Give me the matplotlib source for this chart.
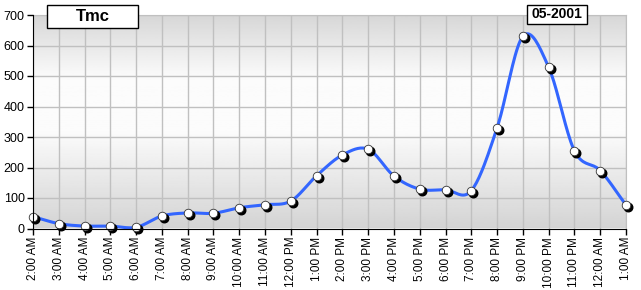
import matplotlib
matplotlib.use("Agg")
import matplotlib.pyplot as plt
import matplotlib.transforms as mtrans
from matplotlib.patches import Rectangle
import numpy as np

plt.rcParams['font.family'] = ['Liberation Sans', 'DejaVu Sans']

hours = ["2:00 AM", "3:00 AM", "4:00 AM", "5:00 AM", "6:00 AM", "7:00 AM",
         "8:00 AM", "9:00 AM", "10:00 AM", "11:00 AM", "12:00 PM", "1:00 PM",
         "2:00 PM", "3:00 PM", "4:00 PM", "5:00 PM", "6:00 PM", "7:00 PM",
         "8:00 PM", "9:00 PM", "10:00 PM", "11:00 PM", "12:00 AM", "1:00 AM"]
tmc = [39, 16, 8, 8, 4, 41, 51, 50, 68, 78, 90, 173,
       241, 260, 172, 129, 127, 124, 330, 630, 529, 255, 190, 77]
yticks = [0, 100, 200, 300, 400, 500, 600, 700]

W, H = 641, 290


def catmull_rom(x, y, n=20):
    # smooth curve through the points, like the original chart control
    x = np.asarray(x, float)
    y = np.asarray(y, float)
    px = np.concatenate([[2 * x[0] - x[1]], x, [2 * x[-1] - x[-2]]])
    py = np.concatenate([[2 * y[0] - y[1]], y, [2 * y[-1] - y[-2]]])
    xs, ys = [], []
    t = np.linspace(0, 1, n, endpoint=False)
    for i in range(1, len(px) - 2):
        for p, out in ((px, xs), (py, ys)):
            p0, p1, p2, p3 = p[i - 1], p[i], p[i + 1], p[i + 2]
            out.extend(0.5 * ((2 * p1) + (-p0 + p2) * t
                              + (2 * p0 - 5 * p1 + 4 * p2 - p3) * t ** 2
                              + (-p0 + 3 * p1 - 3 * p2 + p3) * t ** 3))
    xs.append(x[-1])
    ys.append(y[-1])
    return np.array(xs), np.array(ys)


def label_box(x0, y0, x1, y1, text, size):
    # box given in pixels from top-left, like the reference
    r = Rectangle((x0 / W, 1 - y1 / H), (x1 - x0) / W, (y1 - y0) / H,
                  transform=fig.transFigure, facecolor='white', edgecolor='black',
                  linewidth=1, zorder=10)
    fig.add_artist(r)
    fig.text((x0 + x1) / 2 / W, 1 - (y0 + y1) / 2 / H, text, ha='center',
             va='center', fontsize=size, fontweight='bold', zorder=11)


fig = plt.figure(figsize=(W / 100, H / 100), dpi=100)
ax = fig.add_axes([33 / W, 1 - 228.5 / H, 593 / W, 213.5 / H])

xpos = np.arange(len(hours))
ax.set_xlim(0, len(hours) - 1)
ax.set_ylim(0, 700)

# background gradient: gray top, white band, gray bottom
g = np.interp(np.linspace(0, 1, 256), [0, 0.3, 0.55, 1.0],
              [0.84, 0.985, 0.985, 0.83])
ax.imshow(g[:, None], cmap='gray', vmin=0, vmax=1, aspect='auto',
          extent=(0, len(hours) - 1, 0, 700), origin='upper', zorder=0)

ax.set_xticks(xpos)
ax.set_xticklabels(hours, rotation=90, fontsize=8.5)
ax.set_yticks(yticks)
ax.set_yticklabels([str(v) for v in yticks], fontsize=9)
ax.grid(True, color='#c0c0c0', linewidth=1, zorder=1)
ax.set_axisbelow(False)

for side in ('top', 'right'):
    ax.spines[side].set_color('#c0c0c0')
for side in ('left', 'bottom'):
    ax.spines[side].set_color('black')
    ax.spines[side].set_zorder(5)
ax.tick_params(direction='out', length=4, width=1, color='black', pad=2)

sx, sy = catmull_rom(xpos, tmc)
ax.plot(sx, sy, color='#3366ff', linewidth=2.2, zorder=3, solid_capstyle='round')

shadow = ax.transData + mtrans.ScaledTranslation(2 / 100, -2 / 100, fig.dpi_scale_trans)
ax.scatter(xpos, tmc, s=38, color='black', zorder=4, transform=shadow, clip_on=False)
ax.scatter(xpos, tmc, s=38, color='white', edgecolors='#333333', linewidths=0.6,
           zorder=4.5, clip_on=False)

label_box(47, 5, 138, 28, "Tmc", 12)
label_box(527, 5, 587, 24, "05-2001", 10)

fig.savefig("out.png", dpi=100, facecolor='white')
